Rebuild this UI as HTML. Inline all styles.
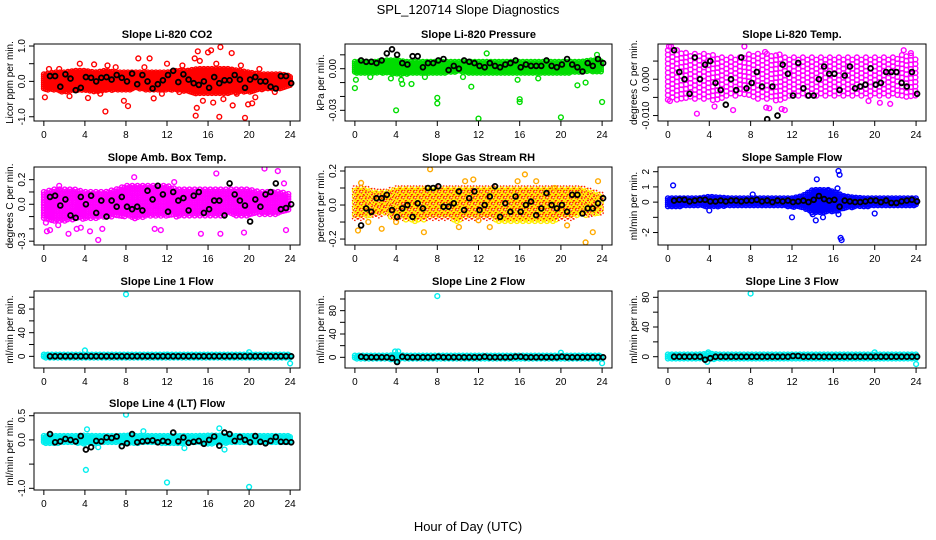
<!DOCTYPE html>
<html><head><meta charset="utf-8"><style>
html,body{margin:0;padding:0;background:#fff;}
svg{display:block;font-family:"Liberation Sans",sans-serif;}
</style></head><body>
<svg id="chart" width="936" height="540" viewBox="0 0 936 540">
<text x="468" y="14" text-anchor="middle" font-size="13">SPL_120714  Slope Diagnostics</text>
<text x="468" y="531" text-anchor="middle" font-size="13">Hour of Day (UTC)</text>
</svg>
<script>
// ---- data ----
const xTicks = [0,4,8,12,16,20,24];
const titles = ["Slope Li-820 CO2","Slope Li-820 Pressure","Slope Li-820 Temp.","Slope Amb. Box Temp.","Slope Gas Stream RH","Slope Sample Flow","Slope Line 1 Flow","Slope Line 2 Flow","Slope Line 3 Flow","Slope Line 4 (LT) Flow"];
const yLabels = ["Licor ppm per min.","kPa per min.","degrees C per min.","degrees C per min.","percent per min.","ml/min per min.","ml/min per min.","ml/min per min.","ml/min per min.","ml/min per min."];
const yLims = [[-1.12,1.057],[-0.0377,0.0178],[-0.0115,0.0097],[-0.331,0.303],[-0.235,0.2235],[-2.82,2.31],[-19.7,110.5],[-18.3,113.7],[-15.2,88.5],[-1.035,0.556]];
const yTickVals = [[-1,-0.5,0,0.5,1],[-0.03,-0.02,-0.01,0,0.01],[-0.01,-0.005,0,0.005],[-0.3,-0.2,-0.1,0,0.1,0.2],[-0.2,-0.1,0,0.1,0.2],[-2,-1,0,1,2],[0,20,40,60,80,100],[0,20,40,60,80,100],[0,20,40,60,80],[-1,-0.5,0,0.5]];
const yTickLabels = [["-1.0","","0.0","","1.0"],["-0.03","","","0.00",""],["-0.010","","0.000",""],["-0.3","","","0.0","","0.2"],["-0.2","","0.0","","0.2"],["-2","","0","1","2"],["0","","40","","80",""],["0","","40","","80",""],["0","","40","","80"],["-1.0","","0.0","0.5"]];
const bandLo = [
 [-0.25,-0.25,-0.3,-0.25,-0.25,-0.3,-0.25,-0.25,-0.25,-0.2,-0.25,-0.25,-0.25,-0.25,-0.3,-0.35,-0.35,-0.35,-0.35,-0.3,-0.3,-0.25,-0.2,-0.2,-0.15],
 [-0.003,-0.003,-0.003,-0.003,-0.004,-0.004,-0.003,-0.003,-0.003,-0.003,-0.002,-0.003,-0.003,-0.003,-0.003,-0.003,-0.003,-0.003,-0.003,-0.003,-0.003,-0.003,-0.002,-0.002,-0.002],
 [-0.006,-0.006,-0.006,-0.006,-0.006,-0.006,-0.005,-0.005,-0.005,-0.006,-0.006,-0.006,-0.005,-0.005,-0.005,-0.005,-0.005,-0.005,-0.005,-0.005,-0.005,-0.005,-0.005,-0.005,-0.005],
 [-0.12,-0.14,-0.14,-0.12,-0.12,-0.12,-0.1,-0.1,-0.1,-0.12,-0.1,-0.1,-0.1,-0.1,-0.1,-0.1,-0.1,-0.1,-0.08,-0.1,-0.1,-0.08,-0.08,-0.08,-0.06],
 [-0.08,-0.08,-0.07,-0.06,-0.08,-0.09,-0.1,-0.08,-0.08,-0.08,-0.1,-0.08,-0.08,-0.08,-0.1,-0.1,-0.1,-0.1,-0.1,-0.1,-0.08,-0.08,-0.06,-0.06,-0.06],
 [-0.3,-0.3,-0.25,-0.25,-0.3,-0.3,-0.25,-0.25,-0.25,-0.25,-0.25,-0.25,-0.3,-0.4,-0.7,-0.7,-0.6,-0.5,-0.3,-0.3,-0.25,-0.25,-0.25,-0.25,-0.25],
 [-3,-3,-3,-3,-3,-3,-3,-3,-3,-3,-3,-3,-3,-3,-3,-3,-3,-3,-3,-3,-3,-3,-3,-3,-3],
 [-3,-3,-3,-3,-4,-3,-3,-3,-3,-3,-3,-3,-3,-3,-3,-3,-3,-3,-3,-3,-3,-3,-3,-3,-3],
 [-3,-3,-3,-3,-4,-3,-3,-3,-3,-3,-3,-3,-3,-3,-3,-3,-3,-3,-3,-3,-3,-3,-3,-3,-3],
 [-0.07,-0.07,-0.06,-0.06,-0.08,-0.07,-0.06,-0.06,-0.07,-0.07,-0.06,-0.06,-0.07,-0.07,-0.06,-0.06,-0.08,-0.07,-0.06,-0.06,-0.06,-0.06,-0.06,-0.06,-0.06]
];
const bandHi = [
 [0.2,0.25,0.25,0.3,0.3,0.25,0.3,0.25,0.25,0.25,0.25,0.25,0.25,0.3,0.3,0.35,0.35,0.35,0.35,0.3,0.25,0.2,0.2,0.2,0.15],
 [0.005,0.005,0.005,0.006,0.006,0.005,0.005,0.005,0.005,0.005,0.005,0.005,0.005,0.005,0.005,0.005,0.005,0.005,0.005,0.005,0.005,0.005,0.005,0.006,0.006],
 [0.008,0.008,0.007,0.007,0.007,0.006,0.006,0.006,0.007,0.007,0.007,0.006,0.006,0.006,0.006,0.006,0.006,0.006,0.006,0.006,0.006,0.006,0.006,0.007,0.006],
 [0.1,0.12,0.12,0.12,0.1,0.1,0.1,0.12,0.15,0.15,0.15,0.15,0.15,0.12,0.12,0.12,0.12,0.12,0.12,0.12,0.12,0.1,0.1,0.1,0.08],
 [0.1,0.1,0.08,0.08,0.1,0.1,0.1,0.1,0.1,0.1,0.1,0.1,0.1,0.1,0.1,0.1,0.1,0.1,0.1,0.1,0.1,0.1,0.1,0.08,0.06],
 [0.25,0.25,0.25,0.25,0.35,0.3,0.25,0.25,0.25,0.25,0.25,0.25,0.25,0.4,0.8,0.8,0.7,0.4,0.3,0.25,0.25,0.25,0.25,0.25,0.25],
 [3,3,3,3,3,3,3,3,3,3,3,3,3,3,3,3,3,3,3,3,3,3,3,3,3],
 [3,3,3,3,4,3,3,3,3,3,3,3,3,3,3,3,3,3,3,3,3,3,3,3,3],
 [3,3,3,3,4,3,3,3,3,3,3,3,3,3,3,3,3,3,3,3,3,3,3,3,3],
 [0.08,0.08,0.08,0.08,0.09,0.08,0.08,0.08,0.09,0.08,0.08,0.08,0.08,0.08,0.08,0.08,0.09,0.09,0.08,0.08,0.08,0.08,0.08,0.08,0.08]
];
const outliers = [
 [[0.1,-0.45],[0.5,0.35],[2.5,-0.42],[3.5,0.5],[4.3,-0.47],[4.9,0.48],[6,-0.85],[6.2,0.45],[7.8,-0.55],[8.2,-0.7],[9.2,0.65],[10.3,0.65],[10.7,-0.48],[14.7,0.65],[14.8,-0.97],[14.9,-0.75],[15,0.85],[15.2,0.58],[16,0.82],[16.3,0.88],[17.2,0.97],[17.1,-1.0],[18.3,0.8],[18.4,-0.68],[19.6,-1.03],[19.9,-0.65],[20.3,-0.62],[16.5,-0.6],[18.8,-0.35],[15.5,-0.55],[13.2,-0.3],[12,0.5],[20.6,-0.45],[17.5,-0.5],[1.5,0.35],[5.5,-0.35],[7,0.4],[9.8,0.4],[11.5,-0.35],[13.5,0.45],[16.8,0.5],[19.2,0.45],[21,0.35],[22.5,-0.3]],
 [[0,-0.014],[4,-0.03],[4.6,-0.011],[5.5,-0.011],[8,-0.021],[8,-0.025],[11.3,-0.013],[12,-0.036],[12.8,0.011],[16,-0.022],[16,-0.024],[20,-0.035],[21.6,-0.012],[22.4,-0.01],[24,-0.024],[23.5,0.01],[4.5,-0.008],[3.5,-0.007],[0.1,-0.008],[1.5,-0.006],[6.8,-0.006],[10.5,-0.006],[15.8,-0.008],[17.8,-0.007]],
 [[0.1,0.009],[0.2,-0.006],[0.3,0.009],[2.8,-0.0095],[4.5,-0.0075],[6.3,-0.0085],[7.4,0.009],[9.5,-0.0078],[9.8,-0.008],[11,-0.0082],[11.3,-0.0085],[19.4,-0.006],[20.5,-0.0065],[21.5,-0.0068],[22.8,0.008],[23.5,0.0072],[9.4,0.0075],[10.8,0.0068]],
 [[0.2,-0.15],[0.3,-0.22],[0.6,-0.21],[1.4,-0.17],[2.4,-0.24],[3.2,-0.2],[3.6,-0.19],[4.5,-0.22],[5.3,-0.29],[5.7,-0.2],[8.8,0.22],[10.8,-0.2],[11.4,-0.21],[15.3,-0.24],[16.8,0.25],[17.2,-0.24],[19.5,-0.23],[21.5,0.29],[22.8,0.27],[23.4,0.17],[23.6,-0.21],[1.5,0.15],[12.7,0.18]],
 [[0.3,-0.15],[0.6,0.13],[1.3,-0.1],[2.6,-0.14],[4,-0.1],[6.7,-0.16],[7.3,0.21],[10.1,-0.13],[10.7,0.14],[11.5,0.15],[13.1,-0.13],[15.8,0.14],[16.5,0.18],[17.6,0.14],[19.4,0.1],[20.6,-0.12],[23.6,0.14],[22.4,-0.22],[23.1,-0.16],[12,-0.09]],
 [[0.5,1.1],[4,-0.55],[8.2,0.5],[12,-1.0],[14.3,-1.2],[14.4,1.5],[15,-1.0],[16.5,-0.8],[16.5,2.05],[16.6,1.8],[16.7,-2.35],[16.8,-2.5],[20,-0.75],[14,-0.8],[15.5,0.8],[16.4,0.9]],
 [[8,105],[4,10],[20,7],[24,-12],[0,0],[12,3]],
 [[8,105],[3.9,10],[4.2,10],[20,8],[24,-10],[4,-6]],
 [[8,85],[3.9,6],[3.8,-7],[20,6],[24,-10]],
 [[4.1,-0.62],[4.2,0.22],[8,0.52],[9.7,0.18],[12,-0.88],[13.7,-0.17],[17.1,0.24],[17.6,-0.2],[20,-0.97],[5.3,-0.15]]
];
const blackVals = [
 [0.15,0.15,-0.15,0.2,0.08,-0.25,-0.18,0.12,0.1,0.0,0.1,0.12,0.05,0.18,0.1,0.0,0.22,-0.08,0.18,0.0,-0.2,-0.08,0.03,0.18,0.3,-0.02,0.2,0.05,-0.05,-0.1,0.0,-0.18,0.12,-0.05,0.03,0.03,0.18,0.05,-0.18,0.05,0.12,0.0,0.0,-0.15,-0.2,0.15,0.15,-0.05],
 [0.006,0.005,0.005,0.004,0.006,0.011,0.014,0.01,0.004,0.003,0.009,0.009,0.001,0.004,0.004,0.006,0.007,-0.001,0.002,0.0,0.006,0.005,0.004,0.002,0.001,0.004,0.002,0.001,0.003,0.004,0.006,0.001,0.003,0.002,0.002,0.002,0.006,0.002,0.001,0.003,0.007,0.003,0.001,-0.002,0.004,0.002,0.007,0.004],
 [0.008,0.002,0.0,-0.004,0.006,0.0,0.004,0.005,-0.001,-0.003,-0.007,0.0,-0.003,0.006,-0.0025,-0.001,0.002,-0.002,-0.011,-0.002,-0.01,0.004,0.0015,-0.0045,0.0045,-0.0025,-0.0045,-0.0045,0.0,0.0035,0.0015,0.0015,-0.003,0.001,0.0035,-0.0025,-0.002,-0.0015,0.003,-0.0015,-0.001,0.002,0.002,0.002,-0.001,-0.002,0.002,-0.004],
 [0.06,0.07,-0.01,0.04,-0.09,-0.11,0.06,0.0,0.07,-0.07,0.03,-0.1,0.03,-0.02,0.06,-0.02,-0.04,-0.02,-0.05,0.11,0.04,0.15,0.08,-0.06,0.1,0.03,0.05,-0.05,0.07,0.1,-0.07,-0.04,0.03,0.03,-0.09,0.17,0.08,0.03,-0.01,-0.14,0.04,-0.02,0.08,0.1,0.17,-0.04,-0.03,0.0],
 [-0.12,-0.02,-0.04,0.04,0.04,0.06,-0.03,-0.07,-0.02,0.0,-0.07,0.01,-0.02,0.1,0.1,0.11,-0.01,-0.01,0.01,0.08,-0.03,0.04,0.08,-0.03,0.0,0.05,0.11,-0.07,0.01,-0.04,0.05,-0.04,0.0,0.02,-0.06,-0.02,0.07,0.0,-0.02,0.0,-0.04,0.06,0.06,-0.05,-0.02,-0.02,0.01,0.04],
 [0.1,0.15,0.15,0.05,0.1,0.15,0.15,0.05,0.05,0.1,0.05,0.1,0.1,0.05,0.1,0.1,0.15,0.05,0.1,0.0,0.1,0.05,0.1,0.0,0.05,0.1,0.0,0.15,0.4,0.2,0.1,0.15,-0.3,0.1,0.05,0.0,0.0,0.05,0.1,0.1,0.0,0.1,-0.05,-0.05,0.05,0.1,0.15,0.05],
 [0,0,0,0,0,0,0,0,0,0,0,0,0,0,0,0,0,0,0,0,0,0,0,0,0,0,0,0,0,0,0,0,0,0,0,0,0,0,0,0,0,0,0,0,0,0,0,0],
 [1,0,0,0,0,0,-1,-8,1,0,0,0,0,0,0,1,0,0,0,0,0,0,0,0,1,0,0,0,0,0,1,1,0,0,0,0,0,0,0,1,0,0,0,0,0,0,0,0],
 [0,0,0,0,0,0,-4,-2,0,0,0,0,0,0,0,0,0,0,0,0,0,0,0,1,1,0,0,0,0,0,0,0,0,0,0,0,0,0,0,0,0,0,0,0,0,0,0,0],
 [0.12,-0.05,-0.03,0.02,0.0,-0.03,0.08,-0.2,-0.15,-0.02,-0.03,0.05,0.04,0.07,-0.13,-0.07,0.12,-0.05,-0.03,-0.02,-0.01,-0.05,-0.02,-0.04,0.15,-0.03,0.05,-0.06,-0.04,-0.02,-0.08,0.0,0.07,-0.12,0.15,0.12,-0.02,0.06,0.0,-0.05,0.08,-0.04,-0.07,-0.02,0.06,-0.04,-0.04,-0.05]
];
// ---- style / layout ----
const colors = ["#ff0000","#00dd00","#ff00ff","#ff00ff","#ffee00","#0000ff","#00eeee","#00eeee","#00eeee","#00eeee"];
const steps = [2,2,4.5,2.6,3,2,2,2,2,2];
const colX = [[34,300],[345,612],[658,926]];
const rowY = [[44,121],[167,245],[291,368],[413,490]];
const NS = "http://www.w3.org/2000/svg";
const svg = document.getElementById("chart");
function mk(tag, attrs, parent){const e=document.createElementNS(NS,tag);for(const k in attrs)e.setAttribute(k,attrs[k]);(parent||svg).appendChild(e);return e;}
function circ(g,x,y,c,sw){return mk("circle",{cx:x.toFixed(1),cy:y.toFixed(1),r:2.4,fill:"none",stroke:c,"stroke-width":sw||1.4},g);}

for(let p=0;p<10;p++){
  const [x0,x1]=colX[p%3], [y0,y1]=rowY[Math.floor(p/3)];
  const g=mk("g",{});
  
  
  const xs=v=>x0+(v+0.96)/25.92*(x1-x0);
  const [lo,hi]=yLims[p];
  const ys=v=>y1-(v-lo)/(hi-lo)*(y1-y0);
  const clip="clip"+p;
  const cp=mk("clipPath",{id:clip},g); mk("rect",{x:x0,y:y0,width:x1-x0,height:y1-y0},cp);
  const pts=mk("g",{"clip-path":"url(#"+clip+")"},g);
  
  
  const st=steps[p]; let col=0;
  for(let px=xs(0);px<=xs(24);px+=st,col++){
    const h=(px-xs(0))/(xs(24)-xs(0))*24, i=Math.min(23,Math.floor(h)), f=h-i;
    const l=bandLo[p][i]*(1-f)+bandLo[p][i+1]*f, u=bandHi[p][i]*(1-f)+bandHi[p][i+1]*f;
    let row=0;
    for(let py=ys(u)+(col%2)*st/2;py<=ys(l);py+=st,row++){
      const c=circ(pts,px,py,colors[p]);
      if(p===4 && (row+col)%2===0){ c.setAttribute("stroke","#ff2000"); c.setAttribute("stroke-dasharray","1.5 1.5"); }
    }
  }
  outliers[p].forEach(o=>{circ(pts,xs(o[0]),ys(o[1]),p===4?"#ffaa00":colors[p]);});
  blackVals[p].forEach((v,i)=>{circ(pts,xs(0.6+i*0.5),ys(v),"#000",1.8);});
  const box=mk("rect",{x:x0,y:y0,width:x1-x0,height:y1-y0,fill:"none",stroke:"#000","stroke-width":1},g);
  
  
  xTicks.forEach(t=>{
    mk("line",{x1:xs(t),x2:xs(t),y1:y1,y2:y1+5,stroke:"#000"},g);
    const tx=mk("text",{x:xs(t),y:y1+17,"text-anchor":"middle","font-size":10},g); tx.textContent=t;
    
    
  });
  yTickVals[p].forEach((t,i)=>{
    const yy=ys(t); if(yy<y0-1||yy>y1+1) return;
    mk("line",{x1:x0-5,x2:x0,y1:yy,y2:yy,stroke:"#000"},g);
    if(yTickLabels[p][i]){
      const tx=mk("text",{x:x0-9,y:yy,"text-anchor":"middle","font-size":10,transform:`rotate(-90 ${x0-9} ${yy})`},g);
      tx.textContent=yTickLabels[p][i];
      
      
    }
  });
  const t=mk("text",{x:(x0+x1)/2,y:y0-6,"text-anchor":"middle","font-size":11,"font-weight":"bold"},g); t.textContent=titles[p];
  
  
  const yc=(y0+y1)/2;
  const yl=mk("text",{x:x0-21,y:yc,"text-anchor":"middle","font-size":10,transform:`rotate(-90 ${x0-21} ${yc})`},g); yl.textContent=yLabels[p];
  
  
}
</script>
</body></html>
